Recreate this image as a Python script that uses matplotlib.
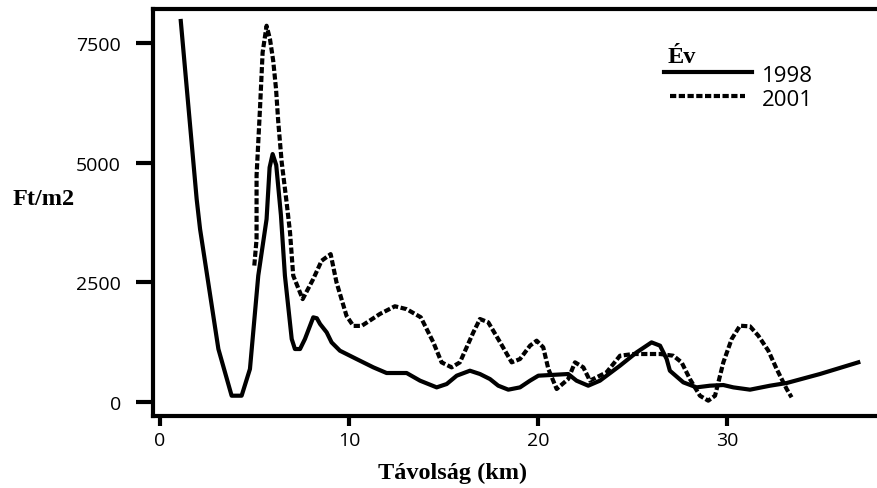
import matplotlib.pyplot as plt
import numpy as np

# distance (km) and price (Ft/m2)
x_1998 = [1.1, 1.94, 2.12, 3.09, 3.79, 4.32, 4.76, 5.2, 5.64, 5.8, 5.96, 6.15, 6.4,
          6.61, 6.97, 7.14, 7.41, 7.67, 8.11, 8.3, 8.47, 8.82, 9.08, 9.52, 10.4,
          11.29, 11.99, 13.05, 13.76, 14.64, 15.17, 15.7, 16.4, 16.93, 17.46, 17.9,
          18.43, 19.05, 19.58, 20.02, 21.6, 22.04, 22.66, 23.28, 24.34, 25.22, 26.01,
          26.46, 26.81, 26.98, 27.69, 28.39, 29.1, 29.81, 30.34, 31.22, 32.28, 33.16,
          34.92, 36.95]
y_1998 = [7959, 4240, 3614, 1107, 132, 132, 690, 2640, 3820, 4900, 5180, 4950, 3900,
          2640, 1316, 1107, 1107, 1316, 1769, 1750, 1630, 1455, 1246, 1072, 898,
          724, 606, 606, 446, 306, 376, 550, 654, 585, 480, 341,
          258, 306, 446, 550, 585, 446, 341, 446, 759, 1037, 1246,
          1177, 898, 654, 411, 306, 341, 355, 306, 258, 341, 397,
          585, 829]

x_2001 = [4.99, 5.11, 5.11, 5.29, 5.43, 5.64, 5.82, 5.99, 6.14, 6.26, 6.44, 6.7, 6.88,
          7.05, 7.55, 8.11, 8.55, 9.03, 9.34, 9.87, 10.23, 10.67, 11.64, 12.43, 13.05,
          13.8, 14.46, 14.9, 15.43, 15.87, 16.58, 16.93, 17.37, 18.0, 18.61, 19.05,
          19.58, 19.93, 20.28, 20.55, 20.99, 21.6, 21.96, 22.4, 22.75, 23.63, 24.34,
          25.04, 26.46, 27.16, 27.6, 28.04, 28.57, 29.01, 29.37, 29.81, 30.25, 30.69,
          31.22, 31.66, 32.19, 32.63, 33.16, 33.42]
y_2001 = [2850, 3400, 4730, 6120, 7300, 7860, 7580, 7130, 6540, 5840, 5010, 4170, 3545,
          2640, 2150, 2570, 2950, 3090, 2500, 1800, 1590, 1590, 1840, 2000, 1940,
          1770, 1250, 829, 724, 829, 1455, 1734, 1665, 1246, 829, 898,
          1177, 1281, 1142, 689, 272, 480, 829, 724, 446, 620, 967,
          1003, 1003, 967, 829, 480, 132, 28, 132, 829, 1316, 1594,
          1580, 1385, 1072, 690, 272, 98]

xticks = [0, 10, 20, 30]
yticks = [0, 2500, 5000, 7500]

dash = (0, (1.5, 0.6))

fig = plt.figure(figsize=(8.77, 4.89), dpi=100)
ax = fig.add_axes([153/877, 1 - 417/489, 1 - 153/877, (417 - 9.7)/489])

ax.plot(x_1998, y_1998, color='black', lw=3, solid_joinstyle='round')
ax.plot(x_2001, y_2001, color='black', lw=3, linestyle=dash)

ax.set_xlim(-0.37, 37.94)
ax.set_ylim(-292, 8216)
ax.set_xticks(xticks)
ax.set_yticks(yticks)

for s in ['left', 'top', 'bottom']:
    ax.spines[s].set_linewidth(3)
ax.spines['right'].set_visible(False)

ax.tick_params(axis='y', length=12, width=3, pad=11)
ax.tick_params(axis='x', length=7, width=3, pad=4)
for lab in ax.get_xticklabels() + ax.get_yticklabels():
    lab.set_fontfamily('Open Sans')
    lab.set_fontsize(14)

serif = dict(family='Liberation Serif', weight='bold', size=17.5)
ax.set_xlabel('Távolság (km)', va='center', **serif)
ax.xaxis.set_label_coords(0.414, -0.1375)
ax.set_ylabel('Ft/m2', rotation=0, ha='center', va='center', **serif)
ax.yaxis.set_label_coords(-0.1506, 0.533)

# legend drawn by hand to get the tight row spacing
ax.text(0.710, 0.869, 'Év', transform=ax.transAxes, va='baseline', ha='left', **serif)
ax.plot([0.706, 0.827], [0.845, 0.845], transform=ax.transAxes, color='black', lw=3,
        clip_on=False)
ax.plot([0.714, 0.818], [0.786, 0.786], transform=ax.transAxes, color='black', lw=3,
        linestyle=dash, clip_on=False)
ax.text(0.841, 0.835, '1998', transform=ax.transAxes, va='center', ha='left',
        family='Open Sans', size=16)
ax.text(0.841, 0.778, '2001', transform=ax.transAxes, va='center', ha='left',
        family='Open Sans', size=16)

fig.savefig('out.png', dpi=100)
